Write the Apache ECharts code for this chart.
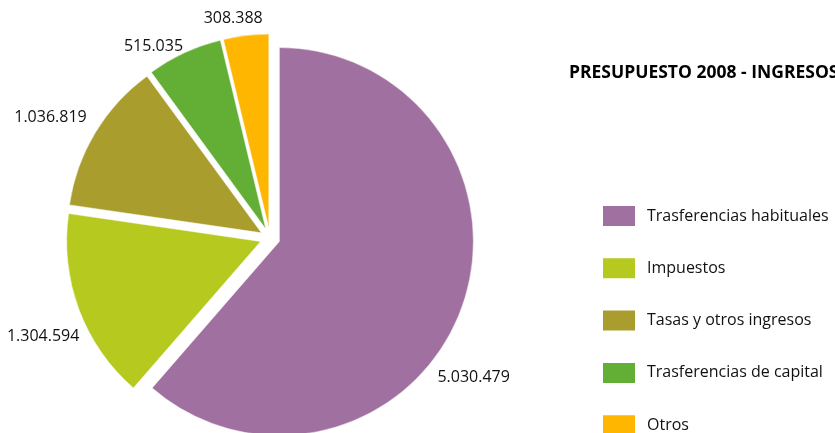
<!DOCTYPE html>
<html>
<head>
<meta charset="utf-8">
<script src="https://cdn.jsdelivr.net/npm/echarts@6/dist/echarts.min.js"></script>
<style>
html,body{margin:0;padding:0;background:#fff;}
#c{width:835px;height:433px;}
</style>
</head>
<body>
<div id="c"></div>
<script>
const categories = ['Trasferencias habituales', 'Impuestos', 'Tasas y otros ingresos', 'Trasferencias de capital', 'Otros'];
const values = [5030479, 1304594, 1036819, 515035, 308388];
const valueLabels = ['5.030.479', '1.304.594', '1.036.819', '515.035', '308.388'];
const colors = ['#A070A0', '#B5C91E', '#A89D2D', '#63AE35', '#FEB600'];
const labelNudge = [[-38, 65], [15, 24], [5, -10], [8, 3], [23, -7]];

const chart = echarts.init(document.getElementById('c'), null, {renderer: 'canvas'});
chart.setOption({
  animation: false,
  backgroundColor: '#fff',
  title: {
    text: 'PRESUPUESTO 2008 - INGRESOS',
    left: 569, top: 64, padding: 0,
    textStyle: {fontFamily: 'Open Sans', fontWeight: 'bold', fontSize: 17.5, color: '#000'}
  },
  legend: {
    orient: 'vertical',
    left: 601, top: 204, height: 280, padding: 0,
    icon: 'rect',
    itemWidth: 34, itemHeight: 22, itemGap: 28.3,
    selectedMode: false,
    textStyle: {fontFamily: 'Open Sans', fontSize: 16, lineHeight: 20, color: '#111', padding: [0, 0, 0, 6]},
    data: categories
  },
  series: [{
    type: 'pie',
    center: [270, 238],
    radius: 194,
    startAngle: 90,
    clockwise: true,
    selectedMode: 'multiple',
    selectedOffset: 10,
    avoidLabelOverlap: false,
    emphasis: {disabled: true},
    itemStyle: {borderColor: '#fff', borderWidth: 0.5},
    label: {
      show: true,
      position: 'outside',
      distanceToLabelLine: 5,
      fontFamily: 'Open Sans', fontSize: 16, color: '#111',
      formatter: p => valueLabels[p.dataIndex]
    },
    labelLine: {show: false, length: 10, length2: 0},
    labelLayout: p => ({dx: labelNudge[p.dataIndex][0], dy: labelNudge[p.dataIndex][1]}),
    data: categories.map((c, i) => ({name: c, value: values[i], selected: true, itemStyle: {color: colors[i]}}))
  }]
});
</script>
</body>
</html>
